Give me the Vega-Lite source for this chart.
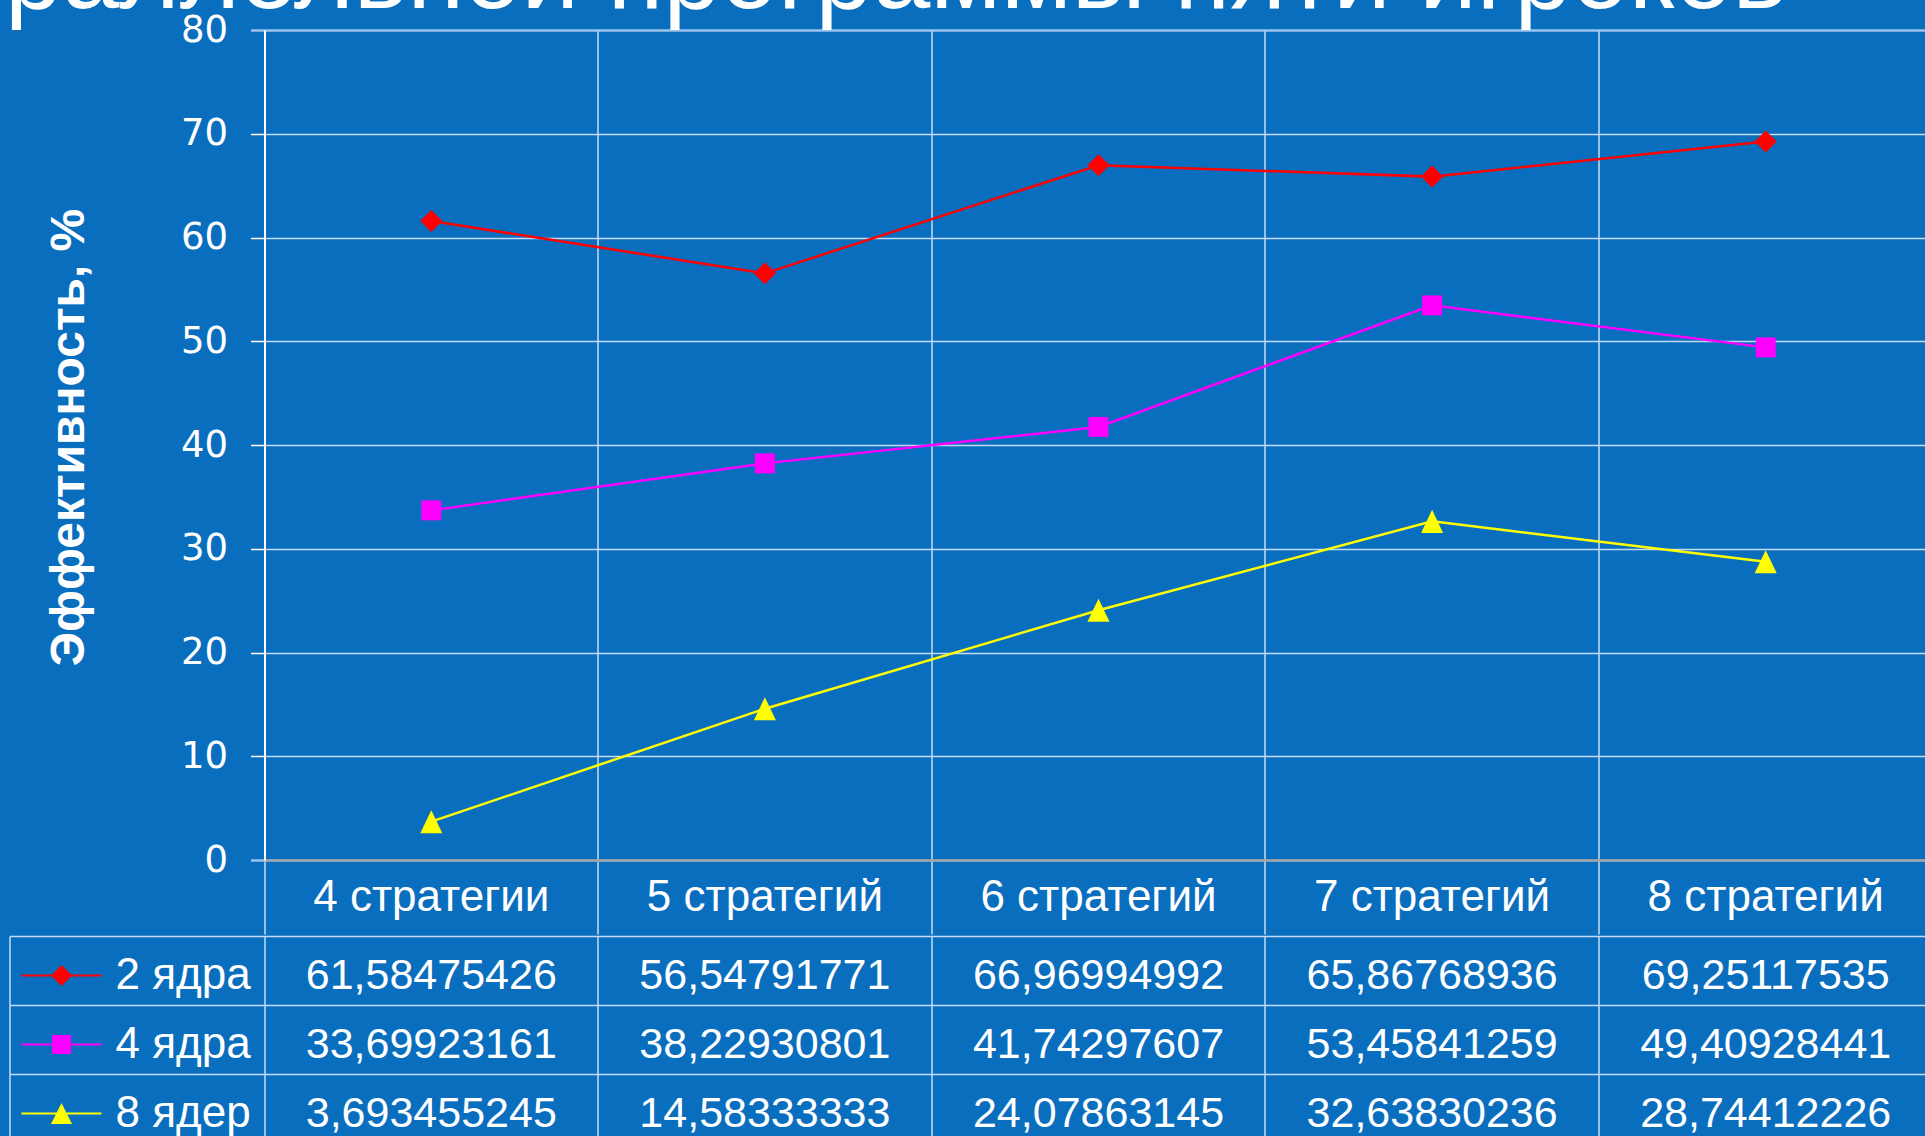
{
  "$schema": "https://vega.github.io/schema/vega-lite/v6.json",
  "background": "#0a6ebf",
  "padding": {"left": 4.5, "top": -74, "right": -7, "bottom": -5},
  "autosize": {"type": "pad"},
  "config": {
    "view": {"stroke": null},
    "font": "Liberation Sans",
    "locale": {"number": {"decimal": ",", "thousands": " ", "grouping": [3], "currency": ["", " ₽"]}}
  },
  "title": {
    "text": "раллельной программы пяти игроков",
    "anchor": "start",
    "frame": "group",
    "fontSize": 103,
    "fontWeight": "normal",
    "font": "Liberation Sans",
    "color": "white",
    "baseline": "alphabetic",
    "offset": -100,
    "dx": -259.5
  },
  "spacing": 0,
  "resolve": {
    "scale": {"color": "independent", "shape": "independent"},
    "legend": {"color": "independent", "shape": "independent"}
  },
  "data": {
    "values": [
      {"cores": "2 ядра", "strategies": "4 стратегии", "value": 61.58475426},
      {"cores": "2 ядра", "strategies": "5  стратегий", "value": 56.54791771},
      {"cores": "2 ядра", "strategies": "6  стратегий", "value": 66.96994992},
      {"cores": "2 ядра", "strategies": "7  стратегий", "value": 65.86768936},
      {"cores": "2 ядра", "strategies": "8  стратегий", "value": 69.25117535},
      {"cores": "4 ядра", "strategies": "4 стратегии", "value": 33.69923161},
      {"cores": "4 ядра", "strategies": "5  стратегий", "value": 38.22930801},
      {"cores": "4 ядра", "strategies": "6  стратегий", "value": 41.74297607},
      {"cores": "4 ядра", "strategies": "7  стратегий", "value": 53.45841259},
      {"cores": "4 ядра", "strategies": "8  стратегий", "value": 49.40928441},
      {"cores": "8 ядер", "strategies": "4 стратегии", "value": 3.693455245},
      {"cores": "8 ядер", "strategies": "5  стратегий", "value": 14.58333333},
      {"cores": "8 ядер", "strategies": "6  стратегий", "value": 24.07863145},
      {"cores": "8 ядер", "strategies": "7  стратегий", "value": 32.63830236},
      {"cores": "8 ядер", "strategies": "8  стратегий", "value": 28.74412226}
    ]
  },
  "vconcat": [
    {
      "width": 1668,
      "height": 830,
      "encoding": {
        "x": {
          "field": "strategies",
          "type": "nominal",
          "sort": ["4 стратегии", "5  стратегий", "6  стратегий", "7  стратегий", "8  стратегий"],
          "scale": {"type": "band", "paddingInner": 0, "paddingOuter": 0},
          "axis": {
            "orient": "bottom",
            "title": null,
            "bandPosition": 0,
            "domain": true,
            "domainColor": "#a6a6a6",
            "domainWidth": 2.5,
            "ticks": true,
            "tickSize": 74,
            "tickColor": "#e4eef9",
            "tickWidth": 1.3,
            "grid": true,
            "gridColor": "#e4eef9",
            "gridWidth": 1.3,
            "labels": true,
            "labelAngle": 0,
            "labelPadding": -37,
            "labelBaseline": "middle",
            "labelAlign": "center",
            "labelFontSize": 44,
            "labelFont": "Liberation Sans",
            "labelColor": "white",
            "labelLimit": 0,
            "labelOverlap": false,
            "minExtent": 74,
            "maxExtent": 74
          }
        },
        "y": {
          "field": "value",
          "type": "quantitative",
          "scale": {"domain": [0, 80], "nice": false},
          "axis": {
            "orient": "left",
            "values": [0, 10, 20, 30, 40, 50, 60, 70, 80],
            "title": "Эффективность, %",
            "titleFont": "Liberation Sans",
            "titleFontSize": 48,
            "titleFontWeight": "bold",
            "titleColor": "white",
            "titleAngle": 270,
            "titleX": -181,
            "titleY": 407,
            "titleAlign": "center",
            "titleBaseline": "alphabetic",
            "domain": true,
            "domainColor": "white",
            "domainWidth": 2,
            "ticks": true,
            "tickSize": 14,
            "tickWidth": {"condition": {"test": "datum.value === 80 || datum.value === 0", "value": 2.5}, "value": 1.5},
            "tickColor": {"condition": {"test": "datum.value === 80 || datum.value === 0", "value": "#9cc4ec"}, "value": "white"},
            "grid": true,
            "gridColor": {"condition": {"test": "datum.value === 80", "value": "#9cc4ec"}, "value": "#c4dbf3"},
            "gridWidth": {"condition": {"test": "datum.value === 80", "value": 2.5}, "value": 1.5},
            "labelFont": "DejaVu Sans",
            "labelFontSize": 37,
            "labelColor": "white",
            "labelPadding": 23,
            "minExtent": 255,
            "maxExtent": 255
          }
        },
        "color": {
          "field": "cores",
          "type": "nominal",
          "scale": {"domain": ["2 ядра", "4 ядра", "8 ядер"], "range": ["#ff0000", "#ff00ff", "#ffff00"]},
          "legend": null
        }
      },
      "layer": [
        {"mark": {"type": "line", "strokeWidth": 2.5}},
        {
          "mark": {"type": "point", "filled": true, "opacity": 1, "size": 441, "strokeWidth": 0},
          "encoding": {
            "shape": {
              "field": "cores",
              "type": "nominal",
              "scale": {
                "domain": ["2 ядра", "4 ядра", "8 ядер"],
                "range": ["M0,-1.05L1.05,0L0,1.05L-1.05,0Z", "M-0.95,-0.95H0.95V0.95H-0.95Z", "M0,-1.1L1.05,1.1L-1.05,1.1Z"]
              },
              "legend": null
            }
          }
        }
      ]
    },
    {
      "width": 1668,
      "height": 207,
      "encoding": {
        "x": {
          "field": "strategies",
          "type": "nominal",
          "sort": ["4 стратегии", "5  стратегий", "6  стратегий", "7  стратегий", "8  стратегий"],
          "scale": {"type": "band", "paddingInner": 0, "paddingOuter": 0},
          "axis": {
            "orient": "bottom",
            "title": null,
            "bandPosition": 0,
            "domain": false,
            "ticks": false,
            "labels": false,
            "grid": true,
            "gridColor": "#e4eef9",
            "gridWidth": 1.3,
            "minExtent": 0,
            "maxExtent": 0
          }
        },
        "y": {
          "field": "cores",
          "type": "nominal",
          "sort": ["2 ядра", "4 ядра", "8 ядер"],
          "scale": {"type": "band", "paddingInner": 0, "paddingOuter": 0},
          "axis": {
            "orient": "left",
            "offset": 255,
            "title": null,
            "bandPosition": 0,
            "domain": true,
            "domainColor": "#c4dbf3",
            "domainWidth": 1.5,
            "ticks": true,
            "tickSize": -255,
            "tickColor": "#c4dbf3",
            "tickWidth": 1.5,
            "grid": true,
            "gridColor": "#c4dbf3",
            "gridWidth": 1.5,
            "labels": false,
            "minExtent": 0,
            "maxExtent": 0
          }
        }
      },
      "layer": [
        {
          "mark": {"type": "text", "fontSize": 43, "font": "Liberation Sans", "color": "white", "align": "center", "baseline": "middle", "dy": 5},
          "encoding": {"text": {"field": "value", "type": "quantitative", "format": ".10g"}}
        },
        {
          "mark": {"type": "point", "filled": true, "opacity": 0, "size": 441, "strokeWidth": 0},
          "encoding": {
            "color": {
              "field": "cores",
              "type": "nominal",
              "scale": {"domain": ["2 ядра", "4 ядра", "8 ядер"], "range": ["#ff0000", "#ff00ff", "#ffff00"]},
              "legend": {
                "orient": "none",
                "legendX": -225,
                "legendY": 17.5,
                "title": null,
                "padding": 0,
                "symbolSize": 400,
                "symbolOpacity": 1,
                "symbolStrokeWidth": 0,
                "labelFont": "Liberation Sans",
                "labelFontSize": 44,
                "labelColor": "white",
                "labelOffset": 32,
                "labelLimit": 0,
                "rowPadding": 25,
                "encode": {"symbols": {"update": {"opacity": {"value": 1}}}}
              }
            },
            "shape": {
              "field": "cores",
              "type": "nominal",
              "scale": {
                "domain": ["2 ядра", "4 ядра", "8 ядер"],
                "range": [
                  "M-4,-0.11H4V0.11H-4Z M0,-1.05L1.05,0L0,1.05L-1.05,0Z",
                  "M-4,-0.11H4V0.11H-4Z M-0.95,-0.95H0.95V0.95H-0.95Z",
                  "M-4,-0.11H4V0.11H-4Z M0,-1.05L1.05,1.05L-1.05,1.05Z"
                ]
              }
            }
          }
        }
      ]
    }
  ]
}
